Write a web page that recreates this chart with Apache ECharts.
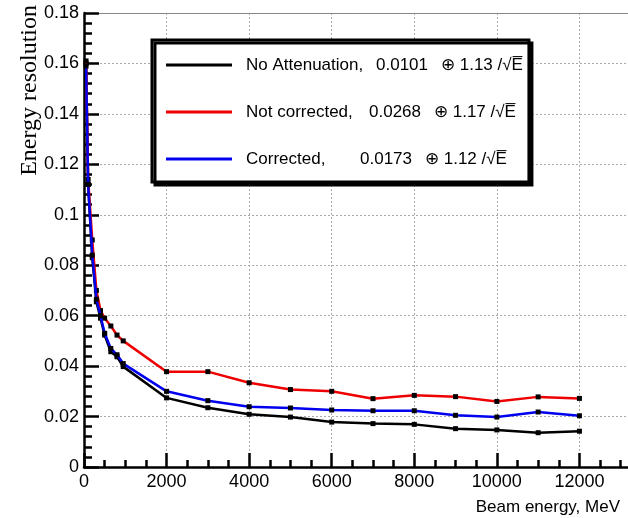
<!DOCTYPE html>
<html>
<head>
<meta charset="utf-8">
<script src="https://cdn.jsdelivr.net/npm/echarts@6/dist/echarts.min.js"></script>
<style>html,body{margin:0;padding:0;background:#fff}#c{width:628px;height:518px}</style>
</head>
<body>
<div id="c"></div>
<script>
const energies = [50,100,200,300,400,500,650,800,950,2000,3000,4000,5000,6000,7000,8000,9000,10000,11000,12000];
const noAttenuation = [0.160,0.112,0.083,0.0655,0.059,0.0523,0.0457,0.0437,0.0398,0.0274,0.0235,0.0209,0.0198,0.0178,0.0172,0.0169,0.0152,0.0147,0.0136,0.0142];
const notCorrected = [0.161,0.114,0.090,0.070,0.062,0.059,0.0559,0.0523,0.050,0.0378,0.0378,0.0334,0.0307,0.0300,0.0271,0.0284,0.0279,0.0260,0.0278,0.0272];
const corrected = [0.159,0.112,0.084,0.0665,0.060,0.053,0.047,0.0445,0.041,0.0300,0.0263,0.0239,0.0234,0.0226,0.0223,0.0223,0.0205,0.0198,0.0218,0.0203];
const seriesNames = ['No Attenuation', 'Not corrected', 'Corrected'];
const fitConst = ['0.0101', '0.0268', '0.0173'];
const fitStoch = ['1.13', '1.17', '1.12'];
const xTitle = 'Beam energy, MeV';
const yTitle = 'Energy resolution';

const pairs = arr => energies.map((e, i) => [e, arr[i]]);
const lineColors = ['#000000', '#ee0000', '#0000ee'];
const values = [noAttenuation, notCorrected, corrected];
const FONT = '"Liberation Sans", Arial, sans-serif';

const chart = echarts.init(document.getElementById('c'), null, {renderer: 'canvas'});
const gridLine = {show: true, lineStyle: {color: '#aaaaaa', width: 1, type: [2, 2]}};

chart.setOption({
  backgroundColor: '#ffffff',
  animation: false,
  grid: {left: 84, top: 13, height: 454, width: 578, outerBoundsMode: 'none', containLabel: false},
  xAxis: [{
    type: 'value', min: 0, max: 14000, interval: 2000,
    axisLine: {show: true, lineStyle: {color: '#000', width: 2.5}},
    axisTick: {show: true, inside: true, length: 14, lineStyle: {color: '#000', width: 2.5}},
    minorTick: {show: true, splitNumber: 4, length: 7, lineStyle: {color: '#000', width: 2.5}},
    splitLine: gridLine,
    axisLabel: {color: '#000', fontSize: 18, fontFamily: FONT, margin: 6, showMaxLabel: false,
      formatter: v => String(v)}
  }, {
    type: 'value', min: 0, max: 14000, position: 'top',
    axisLine: {show: true, lineStyle: {color: '#888', width: 1}},
    axisTick: {show: false}, axisLabel: {show: false}, splitLine: {show: false}
  }],
  yAxis: {
    type: 'value', min: 0, max: 0.18, interval: 0.02,
    axisLine: {show: true, lineStyle: {color: '#000', width: 2.5}},
    axisTick: {show: true, inside: true, length: 15, lineStyle: {color: '#000', width: 2.5}},
    minorTick: {show: true, splitNumber: 5, length: 8, lineStyle: {color: '#000', width: 2.5}},
    splitLine: gridLine,
    axisLabel: {color: '#000', fontSize: 18, fontFamily: FONT, margin: 5}
  },
  legend: {
    orient: 'vertical', left: 152, top: 40,
    padding: [15, 6, 13, 14],
    itemWidth: 66, itemHeight: 3, itemGap: 27,
    backgroundColor: '#fff', borderColor: '#000', borderWidth: 3,
    shadowColor: '#000', shadowOffsetX: 3, shadowOffsetY: 3, shadowBlur: 0,
    data: seriesNames.map((n, i) => ({name: n, icon: 'rect', itemStyle: {color: lineColors[i]}})),
    formatter: function (name) {
      const i = seriesNames.indexOf(name);
      return '{s| }{a' + i + '|' + name + ',}{n|' + fitConst[i] + '}{r|\u2295 ' + fitStoch[i] + ' /\u221AE\u0305}';
    },
    textStyle: {
      color: '#000', fontSize: 17, fontFamily: FONT, lineHeight: 20,
      rich: {
        s: {width: 9, fontSize: 17, fontFamily: FONT},
        a0: {width: 130, fontSize: 17, fontFamily: FONT, color: '#000'},
        a1: {width: 123, fontSize: 17, fontFamily: FONT, color: '#000'},
        a2: {width: 114, fontSize: 17, fontFamily: FONT, color: '#000'},
        n: {width: 65, fontSize: 17, fontFamily: FONT, color: '#000'},
        r: {fontSize: 17, fontFamily: FONT, color: '#000'}
      }
    }
  },
  series: values.map((v, i) => ({
    name: seriesNames[i], type: 'line', data: pairs(v),
    symbol: 'rect', symbolSize: 5, showSymbol: true,
    itemStyle: {color: '#000'},
    lineStyle: {color: lineColors[i], width: 2.5},
    z: 2 + i
  })),
  graphic: [
    {type: 'text', x: 30, y: 5, rotation: Math.PI / 2,
     style: {text: yTitle, font: '24px "Liberation Serif", "Times New Roman", serif', fill: '#000', align: 'right', verticalAlign: 'middle'}},
    {type: 'text', x: 620, y: 507,
     style: {text: xTitle, font: '17px ' + FONT, fill: '#000', align: 'right', verticalAlign: 'middle'}}
  ]
});
</script>
</body>
</html>
